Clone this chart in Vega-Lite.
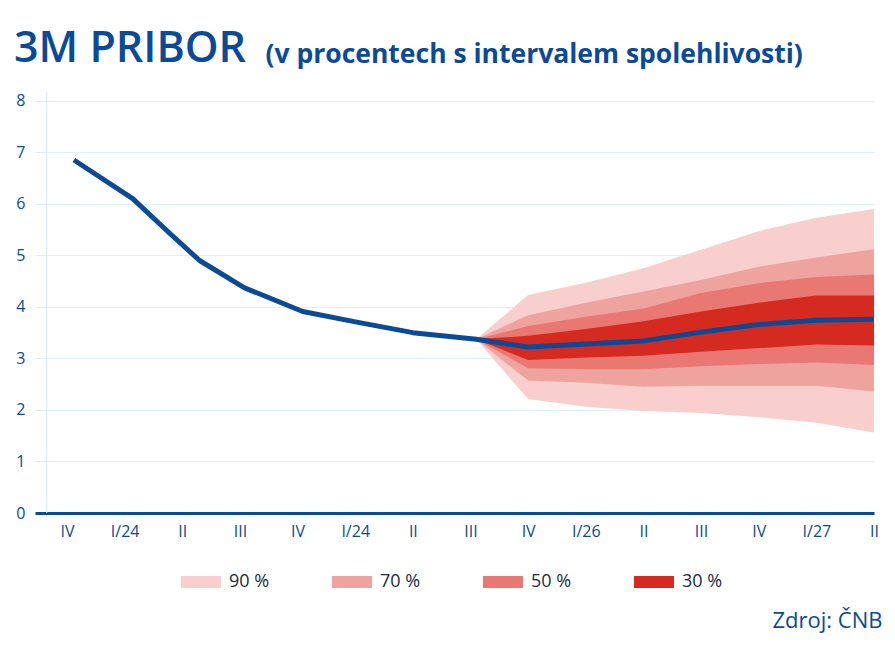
{
  "$schema": "https://vega.github.io/schema/vega-lite/v6.json",
  "autosize": "none",
  "width": 839,
  "height": 421,
  "padding": {"left": 35, "top": 92, "right": 21, "bottom": 156},
  "background": "white",
  "config": {"view": {"stroke": null}, "font": "Open Sans"},
  "title": {
    "text": "3M PRIBOR",
    "anchor": "start",
    "frame": "group",
    "dx": -21,
    "dy": 64,
    "font": "Open Sans",
    "fontSize": 43,
    "fontWeight": 600,
    "color": "#0b4a96",
    "baseline": "alphabetic",
    "offset": 0
  },
  "datasets": {
    "line": [
      {"t": 0.12, "v": 6.85},
      {"t": 1.14, "v": 6.1},
      {"t": 1.79, "v": 5.42},
      {"t": 2.3, "v": 4.9},
      {"t": 3.08, "v": 4.37},
      {"t": 4.09, "v": 3.91},
      {"t": 5.05, "v": 3.7},
      {"t": 6.0, "v": 3.5},
      {"t": 7.1, "v": 3.37},
      {"t": 8, "v": 3.22},
      {"t": 9, "v": 3.28},
      {"t": 10, "v": 3.34},
      {"t": 11, "v": 3.51},
      {"t": 12, "v": 3.66},
      {"t": 13, "v": 3.74},
      {"t": 14, "v": 3.76}
    ],
    "fan": [
      {"t": 7.1, "u90": 3.37, "u70": 3.37, "u50": 3.37, "u30": 3.37, "l30": 3.37, "l50": 3.37, "l70": 3.37, "l90": 3.37},
      {"t": 8, "u90": 4.23, "u70": 3.84, "u50": 3.63, "u30": 3.44, "l30": 2.97, "l50": 2.81, "l70": 2.57, "l90": 2.21},
      {"t": 9, "u90": 4.47, "u70": 4.08, "u50": 3.81, "u30": 3.57, "l30": 3.02, "l50": 2.79, "l70": 2.53, "l90": 2.06},
      {"t": 10, "u90": 4.75, "u70": 4.3, "u50": 3.97, "u30": 3.72, "l30": 3.05, "l50": 2.79, "l70": 2.45, "l90": 1.98},
      {"t": 11, "u90": 5.11, "u70": 4.52, "u50": 4.27, "u30": 3.91, "l30": 3.13, "l50": 2.85, "l70": 2.47, "l90": 1.94},
      {"t": 12, "u90": 5.47, "u70": 4.78, "u50": 4.46, "u30": 4.08, "l30": 3.2, "l50": 2.89, "l70": 2.47, "l90": 1.86},
      {"t": 13, "u90": 5.73, "u70": 4.96, "u50": 4.58, "u30": 4.22, "l30": 3.27, "l50": 2.92, "l70": 2.47, "l90": 1.75},
      {"t": 14, "u90": 5.9, "u70": 5.12, "u50": 4.63, "u30": 4.22, "l30": 3.25, "l50": 2.87, "l70": 2.36, "l90": 1.56}
    ],
    "vline": [{"t": -0.35}]
  },
  "encoding": {
    "x": {
      "field": "t",
      "type": "quantitative",
      "scale": {"domain": [-0.555, 14], "nice": false, "zero": false},
      "axis": {
        "values": [0, 1, 2, 3, 4, 5, 6, 7, 8, 9, 10, 11, 12, 13, 14],
        "labelExpr": "['IV','I/24','II','III','IV','I/24','II','III','IV','I/26','II','III','IV','I/27','II'][datum.value]",
        "grid": false,
        "ticks": false,
        "domain": true,
        "domainColor": "#0b4a96",
        "domainWidth": 3,
        "labelFont": "Open Sans",
        "labelFontSize": 16,
        "labelColor": "#0b4a96",
        "labelPadding": 10,
        "labelFlush": false,
        "labelOverlap": false,
        "title": "Zdroj: ČNB",
        "titleFont": "Open Sans",
        "titleFontSize": 22,
        "titleFontWeight": "normal",
        "titleColor": "#0b4a96",
        "titleAlign": "right",
        "titleBaseline": "alphabetic",
        "titleAnchor": null,
        "titleX": 847,
        "titleY": 114
      }
    }
  },
  "layer": [
    {
      "data": {"name": "vline"},
      "mark": {"type": "rule", "color": "#cfeaf6", "strokeWidth": 1},
      "encoding": {}
    },
    {
      "data": {"name": "fan"},
      "mark": {"type": "area", "opacity": 1},
      "encoding": {
        "y": {
          "field": "l90",
          "type": "quantitative",
          "scale": {"domain": [0, 8.17], "nice": false},
          "axis": {
            "values": [0, 1, 2, 3, 4, 5, 6, 7, 8],
            "grid": true,
            "gridColor": "#dcf0f8",
            "gridWidth": 1,
            "ticks": false,
            "domain": false,
            "labelFont": "Open Sans",
            "labelFontSize": 16,
            "labelColor": "#0b4a96",
            "labelPadding": 10,
            "title": "(v procentech s intervalem spolehlivosti)",
            "titleAngle": 0,
            "titleAlign": "left",
            "titleBaseline": "alphabetic",
            "titleAnchor": null,
            "titleX": 230,
            "titleY": -30,
            "titleFont": "Open Sans",
            "titleFontSize": 26.5,
            "titleFontWeight": 700,
            "titleColor": "#0b4a96"
          }
        },
        "y2": {"field": "u90"},
        "color": {
          "datum": "90 %",
          "type": "nominal",
          "scale": {"domain": ["90 %", "70 %", "50 %", "30 %"], "range": ["#f8cfcd", "#efa39f", "#e97872", "#d42a1f"]},
          "legend": {
            "orient": "none",
            "legendX": 146,
            "legendY": 470,
            "direction": "horizontal",
            "columns": 4,
            "title": null,
            "padding": 0,
            "symbolType": "M-1,-0.3H1V0.3H-1Z",
            "symbolSize": 1600,
            "symbolStrokeWidth": 0,
            "symbolOpacity": 1,
            "labelFont": "Open Sans",
            "labelFontSize": 18,
            "labelColor": "#1c2b3f",
            "labelOffset": 8,
            "columnPadding": 62
          }
        }
      }
    },
    {
      "data": {"name": "fan"},
      "mark": {"type": "area", "opacity": 1},
      "encoding": {
        "y": {"field": "l70", "type": "quantitative"},
        "y2": {"field": "u70"},
        "color": {"datum": "70 %", "type": "nominal"}
      }
    },
    {
      "data": {"name": "fan"},
      "mark": {"type": "area", "opacity": 1},
      "encoding": {
        "y": {"field": "l50", "type": "quantitative"},
        "y2": {"field": "u50"},
        "color": {"datum": "50 %", "type": "nominal"}
      }
    },
    {
      "data": {"name": "fan"},
      "mark": {"type": "area", "opacity": 1},
      "encoding": {
        "y": {"field": "l30", "type": "quantitative"},
        "y2": {"field": "u30"},
        "color": {"datum": "30 %", "type": "nominal"}
      }
    },
    {
      "data": {"name": "line"},
      "mark": {"type": "line", "color": "#0b4a96", "strokeWidth": 5, "strokeCap": "butt", "strokeJoin": "round"},
      "encoding": {
        "y": {"field": "v", "type": "quantitative"}
      }
    }
  ]
}
